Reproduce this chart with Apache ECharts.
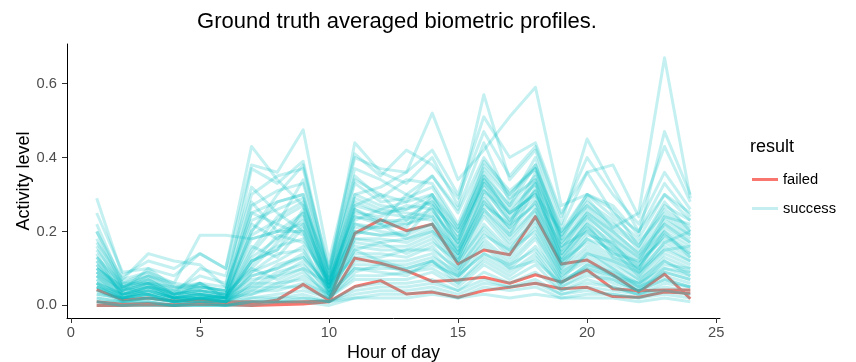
<!DOCTYPE html>
<html><head><meta charset="utf-8">
<script src="https://cdn.jsdelivr.net/npm/echarts@6/dist/echarts.min.js"></script>
<style>html,body{margin:0;padding:0;background:#fff}#chart{width:856px;height:362px}</style>
</head><body><div id="chart"></div>
<script>
const hours = [1,2,3,4,5,6,7,8,9,10,11,12,13,14,15,16,17,18,19,20,21,22,23,24];
const xTicks = [0,5,10,15,20,25];
const yTicks = [0,0.2,0.4,0.6];
const legendNames = ['failed','success'];

// failed profiles
const failedA = [0.01,0.003,0.005,0.002,0.006,0.004,0.004,0.015,0.057,0.014,0.195,0.232,0.202,0.22,0.112,0.15,0.137,0.24,0.112,0.123,0.083,0.036,0.085,0.018];
const failedB = [0.043,0.015,0.02,0.012,0.015,0.01,0.01,0.008,0.01,0.012,0.128,0.114,0.094,0.065,0.069,0.076,0.06,0.083,0.063,0.096,0.045,0.04,0.042,0.042];
const failedC = [0.0,0.0,0.002,0.0,0.003,0.002,0.0,0.002,0.004,0.01,0.051,0.067,0.031,0.036,0.022,0.04,0.049,0.06,0.045,0.049,0.024,0.022,0.036,0.033];

// success profiles
const s01 = [0.05,0.02,0.03,0.01,0.02,0.02,0.12,0.15,0.22,0.05,0.26,0.22,0.3,0.27,0.2,0.33,0.25,0.3,0.2,0.27,0.21,0.25,0.67,0.29];
const s02 = [0.1,0.04,0.06,0.03,0.05,0.04,0.25,0.28,0.3,0.06,0.3,0.32,0.36,0.52,0.34,0.42,0.51,0.59,0.27,0.3,0.26,0.16,0.28,0.2];
const s03 = [0.15,0.06,0.08,0.05,0.06,0.03,0.2,0.3,0.38,0.08,0.44,0.36,0.33,0.4,0.27,0.57,0.34,0.42,0.22,0.45,0.32,0.2,0.33,0.24];
const s04 = [0.29,0.08,0.12,0.1,0.14,0.1,0.43,0.34,0.27,0.1,0.4,0.37,0.36,0.42,0.3,0.51,0.4,0.44,0.25,0.36,0.38,0.24,0.43,0.28];
const s05 = [0.12,0.05,0.08,0.06,0.19,0.19,0.18,0.2,0.25,0.07,0.34,0.3,0.28,0.35,0.25,0.4,0.3,0.38,0.2,0.3,0.24,0.18,0.3,0.25];
const s06 = [0.25,0.09,0.1,0.08,0.14,0.1,0.38,0.36,0.475,0.12,0.41,0.35,0.42,0.38,0.29,0.47,0.35,0.43,0.24,0.4,0.3,0.22,0.36,0.26];
const s07 = [0.2,0.07,0.14,0.12,0.11,0.05,0.37,0.33,0.39,0.09,0.37,0.34,0.3,0.35,0.26,0.44,0.28,0.4,0.19,0.3,0.27,0.19,0.47,0.3];
const s08 = [0.22,0.06,0.09,0.04,0.08,0.06,0.3,0.35,0.37,0.1,0.35,0.29,0.34,0.33,0.22,0.39,0.31,0.37,0.21,0.36,0.25,0.2,0.3,0.23];
const s09 = [0.18,0.05,0.07,0.03,0.05,0.04,0.25,0.22,0.34,0.08,0.3,0.27,0.26,0.3,0.2,0.36,0.27,0.35,0.18,0.27,0.22,0.17,0.25,0.2];
const s10 = [0.16,0.04,0.1,0.05,0.04,0.03,0.2,0.28,0.3,0.06,0.28,0.25,0.24,0.28,0.18,0.34,0.26,0.33,0.16,0.26,0.2,0.14,0.22,0.18];
const s11 = [0.13,0.06,0.06,0.02,0.06,0.02,0.22,0.18,0.25,0.05,0.27,0.3,0.23,0.29,0.19,0.32,0.22,0.36,0.17,0.24,0.18,0.12,0.24,0.22];
const s12 = [0.12,0.03,0.05,0.04,0.03,0.02,0.15,0.24,0.28,0.07,0.25,0.24,0.27,0.26,0.17,0.35,0.24,0.31,0.15,0.25,0.19,0.13,0.2,0.16];
const s13 = [0.1,0.05,0.08,0.03,0.04,0.03,0.18,0.2,0.22,0.06,0.24,0.22,0.21,0.3,0.16,0.31,0.25,0.3,0.14,0.22,0.17,0.11,0.23,0.19];
const s14 = [0.14,0.02,0.04,0.02,0.03,0.02,0.12,0.15,0.26,0.04,0.23,0.26,0.25,0.24,0.15,0.29,0.21,0.34,0.13,0.23,0.16,0.1,0.19,0.15];
const s15 = [0.09,0.04,0.06,0.05,0.05,0.04,0.28,0.2,0.2,0.05,0.22,0.2,0.19,0.27,0.14,0.3,0.2,0.28,0.12,0.21,0.15,0.1,0.21,0.17];
const s16 = [0.11,0.03,0.05,0.02,0.02,0.03,0.1,0.17,0.24,0.06,0.26,0.23,0.22,0.25,0.17,0.33,0.23,0.29,0.16,0.2,0.14,0.12,0.18,0.14];
const s17 = [0.08,0.04,0.07,0.03,0.06,0.02,0.14,0.22,0.19,0.04,0.21,0.21,0.24,0.23,0.13,0.28,0.19,0.32,0.11,0.19,0.17,0.09,0.17,0.2];
const s18 = [0.07,0.03,0.04,0.02,0.04,0.03,0.16,0.13,0.21,0.05,0.2,0.19,0.2,0.22,0.15,0.27,0.22,0.27,0.14,0.22,0.13,0.1,0.2,0.13];
const s19 = [0.06,0.02,0.05,0.03,0.03,0.02,0.11,0.19,0.17,0.07,0.19,0.22,0.18,0.21,0.12,0.26,0.18,0.26,0.1,0.18,0.15,0.08,0.16,0.12];
const s20 = [0.1,0.05,0.03,0.01,0.02,0.01,0.09,0.12,0.16,0.03,0.18,0.18,0.17,0.2,0.14,0.25,0.17,0.25,0.12,0.17,0.12,0.09,0.15,0.16];
const s21 = [0.08,0.03,0.04,0.02,0.03,0.02,0.08,0.1,0.14,0.04,0.17,0.16,0.16,0.19,0.11,0.24,0.16,0.23,0.1,0.16,0.11,0.07,0.14,0.11];
const s22 = [0.07,0.02,0.03,0.01,0.02,0.01,0.06,0.11,0.13,0.05,0.16,0.15,0.15,0.18,0.1,0.22,0.15,0.24,0.09,0.15,0.1,0.06,0.13,0.1];
const s23 = [0.06,0.03,0.05,0.02,0.02,0.02,0.07,0.08,0.12,0.03,0.15,0.17,0.14,0.17,0.12,0.21,0.14,0.22,0.08,0.14,0.12,0.07,0.12,0.09];
const s24 = [0.05,0.02,0.02,0.01,0.01,0.01,0.05,0.09,0.11,0.04,0.14,0.14,0.13,0.16,0.09,0.2,0.13,0.21,0.09,0.13,0.09,0.06,0.11,0.1];
const s25 = [0.09,0.04,0.06,0.03,0.04,0.03,0.1,0.07,0.1,0.06,0.13,0.13,0.15,0.15,0.1,0.19,0.15,0.2,0.07,0.14,0.1,0.05,0.12,0.08];
const s26 = [0.04,0.02,0.03,0.02,0.02,0.01,0.06,0.06,0.09,0.03,0.12,0.12,0.12,0.14,0.08,0.18,0.12,0.19,0.08,0.12,0.08,0.06,0.1,0.09];
const s27 = [0.06,0.01,0.02,0.01,0.02,0.01,0.04,0.08,0.1,0.02,0.11,0.11,0.11,0.13,0.09,0.17,0.11,0.18,0.06,0.11,0.09,0.05,0.09,0.07];
const s28 = [0.03,0.02,0.04,0.02,0.03,0.02,0.05,0.05,0.08,0.03,0.1,0.1,0.1,0.12,0.07,0.16,0.1,0.16,0.07,0.1,0.07,0.04,0.1,0.08];
const s29 = [0.05,0.03,0.03,0.01,0.01,0.01,0.03,0.06,0.07,0.02,0.09,0.11,0.09,0.11,0.08,0.14,0.11,0.15,0.06,0.11,0.08,0.05,0.08,0.06];
const s30 = [0.04,0.01,0.02,0.01,0.02,0.01,0.04,0.04,0.06,0.03,0.1,0.09,0.08,0.12,0.06,0.13,0.09,0.14,0.05,0.09,0.06,0.04,0.09,0.07];
const s31 = [0.03,0.02,0.03,0.02,0.02,0.02,0.03,0.05,0.05,0.02,0.08,0.08,0.09,0.1,0.06,0.12,0.08,0.13,0.05,0.08,0.07,0.04,0.07,0.05];
const s32 = [0.02,0.01,0.02,0.01,0.01,0.01,0.02,0.03,0.04,0.02,0.07,0.07,0.07,0.09,0.05,0.11,0.07,0.11,0.04,0.07,0.05,0.03,0.06,0.05];
const s33 = [0.02,0.01,0.01,0.0,0.01,0.0,0.02,0.02,0.03,0.01,0.05,0.06,0.06,0.07,0.04,0.09,0.06,0.09,0.04,0.06,0.05,0.03,0.05,0.04];
const s34 = [0.01,0.0,0.01,0.0,0.0,0.0,0.01,0.02,0.02,0.01,0.04,0.05,0.05,0.06,0.04,0.07,0.05,0.07,0.03,0.05,0.04,0.03,0.04,0.03];
const s35 = [0.0,0.0,0.0,0.0,0.0,0.0,0.01,0.01,0.02,0.01,0.03,0.04,0.04,0.05,0.03,0.06,0.05,0.06,0.03,0.04,0.03,0.02,0.04,0.03];
const s36 = [0.01,0.01,0.01,0.0,0.01,0.0,0.0,0.01,0.01,0.0,0.02,0.03,0.03,0.04,0.02,0.05,0.04,0.05,0.02,0.03,0.03,0.02,0.03,0.02];
const s37 = [0.2,0.05,0.06,0.03,0.1,0.08,0.32,0.25,0.2,0.03,0.15,0.12,0.1,0.12,0.08,0.14,0.1,0.12,0.06,0.1,0.08,0.04,0.07,0.05];
const s38 = [0.17,0.07,0.09,0.06,0.05,0.04,0.27,0.31,0.33,0.09,0.33,0.28,0.29,0.32,0.21,0.37,0.29,0.34,0.19,0.28,0.23,0.15,0.26,0.21];
const s39 = [0.13,0.05,0.07,0.04,0.06,0.05,0.23,0.26,0.29,0.08,0.29,0.26,0.28,0.3,0.21,0.35,0.27,0.38,0.18,0.29,0.21,0.16,0.27,0.23];
const s40 = [0.11,0.04,0.05,0.03,0.04,0.02,0.19,0.23,0.27,0.05,0.27,0.25,0.26,0.28,0.18,0.38,0.3,0.37,0.17,0.25,0.2,0.14,0.24,0.19];
const s41 = [0.09,0.03,0.06,0.02,0.03,0.02,0.13,0.18,0.23,0.07,0.24,0.23,0.23,0.26,0.16,0.34,0.25,0.33,0.15,0.24,0.18,0.13,0.22,0.17];
const s42 = [0.08,0.02,0.04,0.02,0.03,0.01,0.12,0.16,0.18,0.06,0.22,0.21,0.22,0.24,0.14,0.31,0.23,0.31,0.13,0.21,0.16,0.11,0.19,0.14];
const s43 = [0.06,0.03,0.05,0.02,0.02,0.02,0.09,0.14,0.15,0.04,0.2,0.19,0.19,0.22,0.13,0.28,0.21,0.28,0.12,0.2,0.14,0.09,0.17,0.13];
const s44 = [0.05,0.02,0.03,0.01,0.02,0.01,0.08,0.1,0.13,0.05,0.18,0.17,0.18,0.2,0.12,0.26,0.19,0.26,0.11,0.18,0.13,0.08,0.15,0.12];
const s45 = [0.01,0.0,0.0,0.0,0.0,0.0,0.01,0.01,0.01,0.01,0.02,0.02,0.02,0.03,0.02,0.03,0.02,0.03,0.02,0.02,0.02,0.01,0.02,0.01];

const failedLines = [failedA, failedB, failedC];
const successLines = [s01,s02,s03,s04,s05,s06,s07,s08,s09,s10,s11,s12,s13,s14,s15,s16,s17,s18,s19,s20,
  s21,s22,s23,s24,s25,s26,s27,s28,s29,s30,s31,s32,s33,s34,s35,s36,s37,s38,s39,s40,s41,s42,s43,s44,s45];

const FONT = '"Liberation Sans", Arial, Helvetica, sans-serif';
const RED = '#F8766D';
const TEAL = 'rgba(0,191,196,0.23)';
const pairs = v => hours.map((h, i) => [h, v[i]]);

const series = [];
failedLines.forEach(v => series.push({
  type: 'line', name: legendNames[0], data: pairs(v), symbol: 'none', showSymbol: false, silent: true,
  lineStyle: { color: RED, width: 3, join: 'round' }, itemStyle: { color: RED }
}));
successLines.forEach(v => series.push({
  type: 'line', name: legendNames[1], data: pairs(v), symbol: 'none', showSymbol: false, silent: true,
  lineStyle: { color: TEAL, width: 3, join: 'round' }, itemStyle: { color: TEAL }
}));

const chart = echarts.init(document.getElementById('chart'), null, { renderer: 'canvas' });
chart.setOption({
  animation: false,
  backgroundColor: '#fff',
  title: [
    { text: 'Ground truth averaged biometric profiles.', left: 392, textAlign: 'center', top: 6,
      textStyle: { fontFamily: FONT, fontSize: 22, fontWeight: 'normal', color: '#000' } },
    { text: 'result', left: 745, top: 133,
      textStyle: { fontFamily: FONT, fontSize: 18, fontWeight: 'normal', color: '#000' } }
  ],
  legend: {
    orient: 'vertical', left: 747, top: 167, icon: 'rect', itemWidth: 26, itemHeight: 3, itemGap: 14,
    selectedMode: false,
    textStyle: { fontFamily: FONT, fontSize: 14.7, color: '#000' },
    data: [
      { name: legendNames[0], itemStyle: { color: RED } },
      { name: legendNames[1], itemStyle: { color: '#c4eef0' } }
    ]
  },
  grid: { left: 67, right: 136, top: 44, bottom: 44, containLabel: false, outerBoundsMode: 'none' },
  xAxis: {
    type: 'value', min: -0.15, max: 25.15,
    name: 'Hour of day', nameLocation: 'middle', nameGap: 26, nameMoveOverlap: false,
    nameTextStyle: { fontFamily: FONT, fontSize: 18, color: '#000' },
    axisLine: { onZero: false, lineStyle: { color: '#000', width: 1 } },
    axisTick: { show: true, length: 5, customValues: xTicks, lineStyle: { color: '#333', width: 1 } },
    axisLabel: { customValues: xTicks, margin: 7, fontFamily: FONT, fontSize: 14.7, color: '#4d4d4d',
      formatter: v => String(v) },
    splitLine: { show: false }
  },
  yAxis: {
    type: 'value', min: -0.034, max: 0.707,
    name: 'Activity level', nameLocation: 'middle', nameGap: 34, nameRotate: 90, nameMoveOverlap: false,
    nameTextStyle: { fontFamily: FONT, fontSize: 18, color: '#000' },
    axisLine: { show: true, onZero: false, lineStyle: { color: '#000', width: 1 } },
    axisTick: { show: true, length: 5, customValues: yTicks, lineStyle: { color: '#333', width: 1 } },
    axisLabel: { customValues: yTicks, margin: 10, fontFamily: FONT, fontSize: 14.7, color: '#4d4d4d',
      formatter: v => v.toFixed(1) },
    splitLine: { show: false }
  },
  series: series
});
</script>
</body></html>
